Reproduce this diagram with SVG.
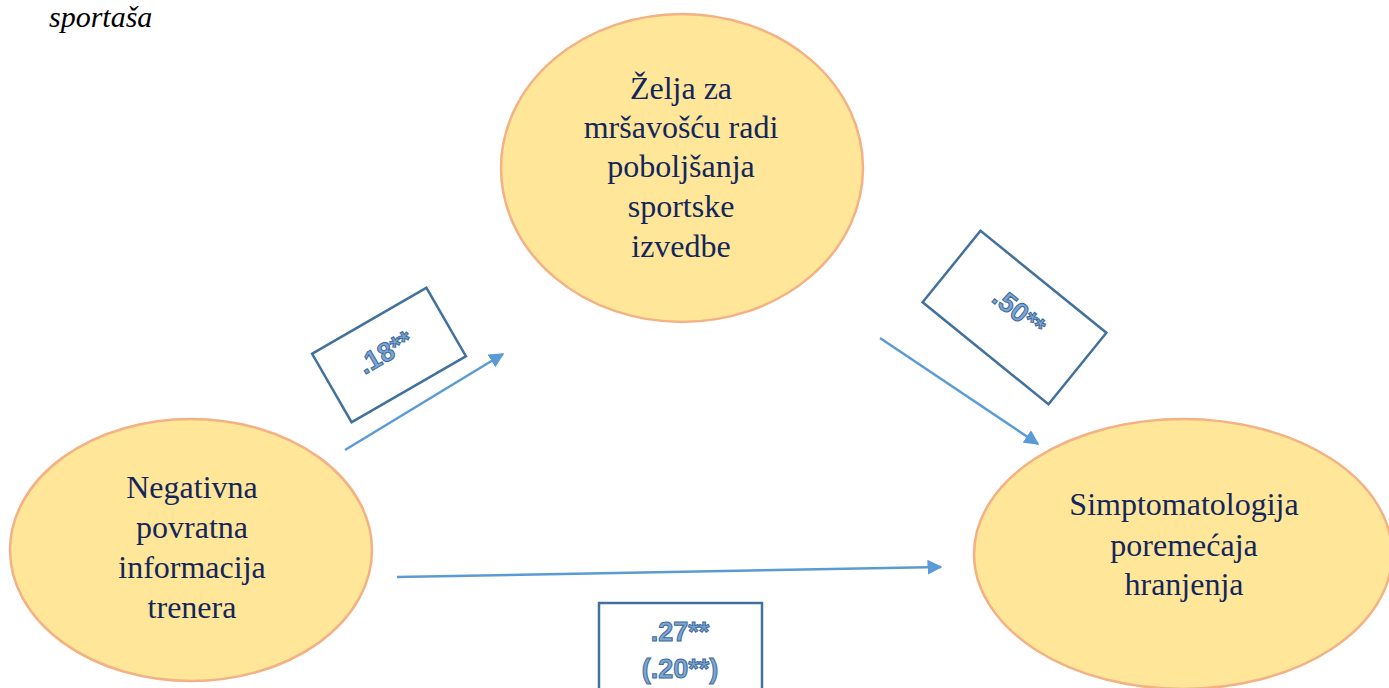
<svg xmlns="http://www.w3.org/2000/svg" width="1389" height="688" viewBox="0 0 1389 688">
<style>
.node{fill:#FFE699;stroke:#F4B183;stroke-width:2.5}
.nt{font-family:"Liberation Serif","Times New Roman",serif;font-size:32px;fill:#13265C;text-anchor:middle}
.box{fill:#fff;stroke:#41719C;stroke-width:2.5}
.bt{font-family:"Liberation Sans",Arial,sans-serif;font-weight:bold;font-size:27px;fill:#7EA6D3;stroke:#3C6A9A;stroke-width:1;text-anchor:middle}
.conn{stroke:#5B9BD5;stroke-width:2.5;fill:none}
.title{font-family:"Liberation Serif","Times New Roman",serif;font-style:italic;font-size:30px;fill:#000}
</style>
<defs>
<marker id="ah" viewBox="0 0 10 10" refX="9" refY="5" markerWidth="6" markerHeight="6" orient="auto" markerUnits="strokeWidth">
<path d="M0,0 L10,5 L0,10 z" fill="#5B9BD5"/>
</marker>
</defs>
<rect width="1389" height="688" fill="#fff"/>
<text class="title" x="49" y="27">sportaša</text>

<g id="node-mediator">
<ellipse class="node" cx="682" cy="168" rx="181" ry="154"/>
<text class="nt" x="681" y="99">Želja za</text>
<text class="nt" x="681" y="138">mršavošću radi</text>
<text class="nt" x="681" y="177">poboljšanja</text>
<text class="nt" x="681" y="217">sportske</text>
<text class="nt" x="681" y="257">izvedbe</text>
</g>

<g id="node-predictor">
<ellipse class="node" cx="191" cy="550" rx="181" ry="131"/>
<text class="nt" x="192" y="498">Negativna</text>
<text class="nt" x="192" y="538">povratna</text>
<text class="nt" x="192" y="578">informacija</text>
<text class="nt" x="192" y="618">trenera</text>
</g>

<g id="node-outcome">
<ellipse class="node" cx="1183" cy="554" rx="209" ry="135"/>
<text class="nt" x="1184" y="515">Simptomatologija</text>
<text class="nt" x="1184" y="556">poremećaja</text>
<text class="nt" x="1184" y="595">hranjenja</text>
</g>

<g id="connectors">
<line class="conn" x1="345" y1="450" x2="503" y2="354" marker-end="url(#ah)"/>
<line class="conn" x1="880" y1="338" x2="1038" y2="444" marker-end="url(#ah)"/>
<line class="conn" x1="397" y1="577" x2="941" y2="567" marker-end="url(#ah)"/>
</g>

<g id="label-a">
<g transform="translate(389,355) rotate(-30)">
<rect class="box" x="-66" y="-39.5" width="132" height="79"/>
<text class="bt" x="-2" y="5">.18**</text>
</g>
</g>

<g id="label-b">
<g transform="translate(1014.5,317.5) rotate(39)">
<rect class="box" x="-81" y="-46" width="162" height="92"/>
<text class="bt" x="0" y="2">.50**</text>
</g>
</g>

<g id="label-c">
<rect class="box" x="599" y="603" width="163" height="100"/>
<text class="bt" x="680" y="641">.27**</text>
<text class="bt" x="680" y="678">(.20**)</text>
</g>
</svg>
